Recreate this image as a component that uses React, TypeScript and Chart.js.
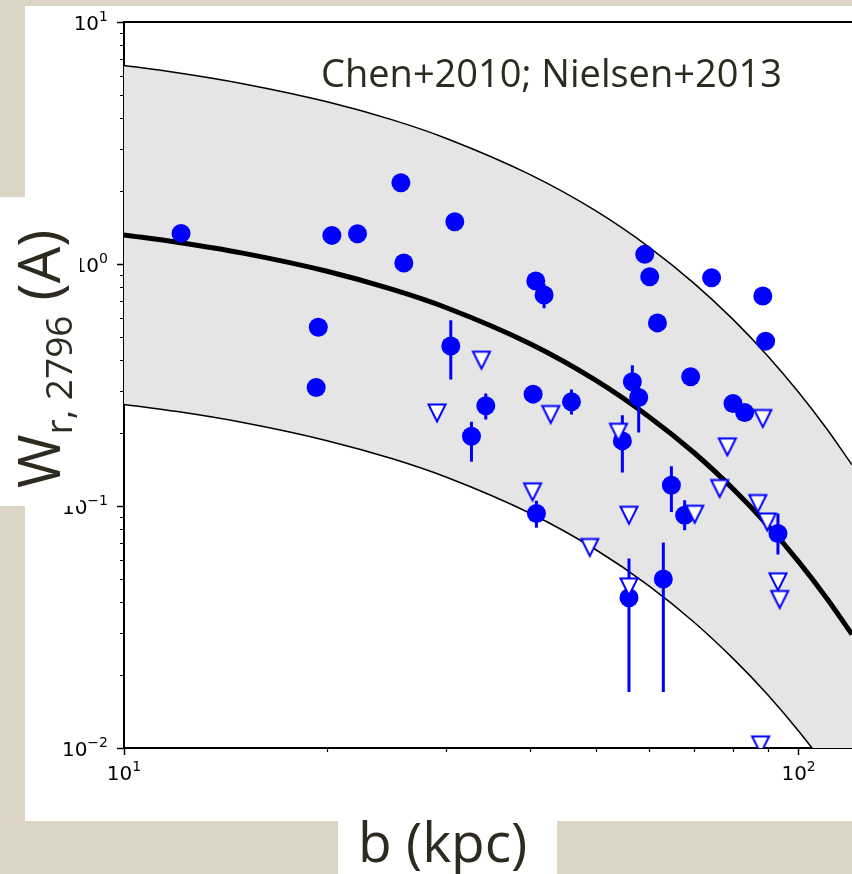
import React, { useEffect, useRef } from 'react';
import { Chart, registerables } from 'chart.js';

Chart.register(...registerables);

// ---------- data ----------
// detections (filled circles), impact parameter b (kpc) and W_r,2796 (A)
const bDet = [12.15, 25.73, 20.33, 22.19, 25.99, 19.41, 19.27, 30.93, 30.51, 40.78, 41.95, 59.15, 60.16, 74.31, 88.5, 89.35, 61.77, 34.38, 32.74, 40.41, 46.06, 56.7, 57.94, 69.18, 79.94, 83.18, 54.8, 64.78, 67.78, 93.2, 40.87, 56.05, 63.02];
const wDet = [1.338, 2.167, 1.313, 1.333, 1.009, 0.548, 0.309, 1.494, 0.458, 0.85, 0.744, 1.096, 0.885, 0.877, 0.737, 0.48, 0.571, 0.2594, 0.1943, 0.2899, 0.2694, 0.326, 0.2809, 0.3418, 0.2653, 0.2435, 0.1858, 0.1219, 0.0916, 0.077, 0.0931, 0.0418, 0.04997];
// visible error bars (lower / upper end), null where smaller than the marker
const errLo = [null, null, null, null, null, null, null, null, 0.333, null, 0.657, null, null, null, null, null, null, 0.2278, 0.1522, null, 0.2389, 0.287, 0.2012, null, null, null, 0.1376, 0.0945, 0.0794, 0.063, 0.0813, 0.01704, 0.01704];
const errHi = [null, null, null, null, null, null, null, null, 0.586, null, 0.826, null, null, null, null, null, null, 0.2917, 0.2227, null, 0.3031, 0.382, 0.331, null, null, null, 0.2373, 0.146, 0.1057, 0.0931, 0.105, 0.0607, 0.0707];

// upper limits (open down triangles)
const bLim = [29.11, 33.88, 42.91, 54.07, 78.42, 76.38, 70.15, 87.0, 89.87, 40.33, 56.05, 49.03, 93.2, 93.74, 56.05, 87.83, 88.5];
const wLim = [0.2423, 0.4006, 0.2389, 0.2018, 0.1755, 0.1181, 0.0925, 0.1024, 0.0859, 0.1144, 0.0916, 0.0674, 0.0486, 0.0411, 0.0463, 0.0103, 0.23];

// model curves
const modelB = [10, 12, 15, 20, 25, 30, 40, 50, 60, 70, 80, 90, 100, 110, 120];
const modelMid = [1.318, 1.23, 1.109, 0.933, 0.785, 0.661, 0.468, 0.331, 0.234, 0.166, 0.1175, 0.0832, 0.0589, 0.0417, 0.0295];
const modelUpper = [6.61, 6.17, 5.56, 4.68, 3.94, 3.31, 2.34, 1.66, 1.175, 0.832, 0.589, 0.417, 0.295, 0.209, 0.148];
const modelLower = [0.263, 0.2455, 0.2213, 0.1862, 0.1567, 0.1318, 0.0933, 0.0661, 0.0468, 0.0331, 0.0234, 0.0166, 0.01175, 0.00832, 0.00589];

// ticks
const xTickValues = [10, 20, 30, 40, 50, 60, 70, 80, 90, 100];
const xMajorValues = [10, 100];
const xMajorExponents = ['1', '2'];
const yTickValues = [0.01, 0.02, 0.03, 0.04, 0.05, 0.06, 0.07, 0.08, 0.09, 0.1, 0.2, 0.3, 0.4, 0.5, 0.6, 0.7, 0.8, 0.9, 1, 2, 3, 4, 5, 6, 7, 8, 9, 10];
const yMajorValues = [0.01, 0.1, 1, 10];
const yMajorExponents = ['−2', '−1', '0', '1'];
const tickBase = '10';

// texts
const titleText = 'Chen+2010; Nielsen+2013';
const xTitleText = 'b (kpc)';
const yTitleMain = 'W';
const yTitleSub = 'r, 2796';
const yTitleUnit = ' (A)';

// ---------- styles ----------
const W = 852;
const H = 874;
const PARCHMENT = '#dcd4c4';
const TEXT = '#2d2a20';
const BLUE = '#0000ff';
const BAND = '#e5e5e5';
const SANS = '"Open Sans", "DejaVu Sans", sans-serif';
const TICKFONT = '"DejaVu Sans", sans-serif';

function isMajor(list: number[], v: number) {
  return list.some((m) => Math.abs(m - v) < 1e-9);
}

function makeTriangle(): HTMLCanvasElement {
  const c = document.createElement('canvas');
  c.width = 24;
  c.height = 24;
  const g = c.getContext('2d')!;
  g.beginPath();
  g.moveTo(3.5, 3.5);
  g.lineTo(20.5, 3.5);
  g.lineTo(12, 20.5);
  g.closePath();
  g.fillStyle = '#ffffff';
  g.fill();
  g.lineWidth = 2;
  g.lineJoin = 'miter';
  g.strokeStyle = BLUE;
  g.stroke();
  return c;
}

function drawPow(ctx: CanvasRenderingContext2D, exp: string, x: number, baseline: number, align: 'right' | 'center') {
  ctx.font = `20px ${TICKFONT}`;
  const wb = ctx.measureText(tickBase).width;
  ctx.font = `14px ${TICKFONT}`;
  const we = ctx.measureText(exp).width;
  const total = wb + we;
  const start = align === 'right' ? x - total : x - total / 2;
  ctx.font = `20px ${TICKFONT}`;
  ctx.fillText(tickBase, start, baseline);
  ctx.font = `14px ${TICKFONT}`;
  ctx.fillText(exp, start + wb, baseline - 9);
}

const decorPlugin = {
  id: 'decor',
  beforeDraw(chart: any) {
    const ctx = chart.ctx;
    ctx.save();
    ctx.fillStyle = PARCHMENT;
    ctx.fillRect(0, 0, W, H);
    ctx.fillStyle = '#ffffff';
    ctx.fillRect(25, 6, W - 25, 815);
    ctx.fillRect(338, 821, 219, H - 821);
    ctx.restore();
  },
  afterDraw(chart: any) {
    const ctx = chart.ctx;
    const area = chart.chartArea;
    const xs = chart.scales.x;
    const ys = chart.scales.y;
    ctx.save();
    // minor ticks
    ctx.strokeStyle = '#000';
    ctx.lineWidth = 1.2;
    ctx.beginPath();
    xTickValues.forEach((v) => {
      if (isMajor(xMajorValues, v)) return;
      const px = Math.round(xs.getPixelForValue(v)) + 0.5;
      ctx.moveTo(px, area.bottom);
      ctx.lineTo(px, area.bottom + 4);
    });
    yTickValues.forEach((v) => {
      if (isMajor(yMajorValues, v)) return;
      const py = Math.round(ys.getPixelForValue(v)) + 0.5;
      ctx.moveTo(area.left, py);
      ctx.lineTo(area.left - 4, py);
    });
    ctx.stroke();
    // top spine
    ctx.lineWidth = 2;
    ctx.beginPath();
    ctx.moveTo(area.left - 1, area.top);
    ctx.lineTo(area.right, area.top);
    ctx.stroke();

    // tick labels (10 with superscript exponent)
    ctx.fillStyle = '#000';
    ctx.textBaseline = 'alphabetic';
    ctx.textAlign = 'left';
    yMajorValues.forEach((v, i) => {
      const py = ys.getPixelForValue(v);
      drawPow(ctx, yMajorExponents[i], area.left - 16, py + 8, 'right');
    });
    xMajorValues.forEach((v, i) => {
      const px = xs.getPixelForValue(v);
      drawPow(ctx, xMajorExponents[i], px, area.bottom + 32, 'center');
    });

    // title inside the plot
    ctx.fillStyle = TEXT;
    ctx.font = `38px ${SANS}`;
    ctx.fillText(titleText, 321, 87);

    // x title
    ctx.font = `55px ${SANS}`;
    ctx.fillText(xTitleText, 358, 862);

    // y title box (covers part of the tick labels)
    ctx.fillStyle = '#ffffff';
    ctx.fillRect(0, 197, 80, 309);
    ctx.fillStyle = TEXT;
    ctx.translate(60, 488);
    ctx.rotate(-Math.PI / 2);
    let off = 0;
    ctx.font = `58px ${SANS}`;
    ctx.fillText(yTitleMain, off, 0);
    off += ctx.measureText(yTitleMain).width;
    ctx.font = `37px ${SANS}`;
    ctx.fillText(yTitleSub, off, 12);
    off += ctx.measureText(yTitleSub).width;
    ctx.font = `58px ${SANS}`;
    ctx.fillText(yTitleUnit, off, 0);
    ctx.restore();
  },
};

export default function App() {
  const ref = useRef<HTMLCanvasElement | null>(null);

  useEffect(() => {
    const canvas = ref.current;
    if (!canvas) return;
    const tri = makeTriangle();

    const detPoints = bDet.map((b, i) => ({ x: b, y: wDet[i] }));
    const limPoints = bLim.map((b, i) => ({ x: b, y: wLim[i] }));
    const errPoints: { x: number; y: number | null }[] = [];
    bDet.forEach((b, i) => {
      if (errLo[i] != null && errHi[i] != null) {
        errPoints.push({ x: b, y: errLo[i] as number });
        errPoints.push({ x: b, y: errHi[i] as number });
        errPoints.push({ x: b, y: null });
      }
    });
    const upper = modelB.map((b, i) => ({ x: b, y: modelUpper[i] }));
    const lower = modelB.map((b, i) => ({ x: b, y: modelLower[i] }));
    const mid = modelB.map((b, i) => ({ x: b, y: modelMid[i] }));

    const chart = new Chart(canvas, {
      type: 'line',
      data: {
        datasets: [
          {
            data: upper,
            order: 5,
            borderColor: '#000',
            borderWidth: 1.5,
            pointRadius: 0,
            cubicInterpolationMode: 'monotone',
            fill: '+1',
            backgroundColor: BAND,
          },
          {
            data: lower,
            order: 4,
            borderColor: '#000',
            borderWidth: 1.5,
            pointRadius: 0,
            cubicInterpolationMode: 'monotone',
            fill: false,
          },
          {
            data: mid,
            order: 3,
            borderColor: '#000',
            borderWidth: 5,
            pointRadius: 0,
            cubicInterpolationMode: 'monotone',
            fill: false,
          },
          {
            data: errPoints,
            order: 2,
            borderColor: BLUE,
            borderWidth: 3,
            borderCapStyle: 'butt',
            pointRadius: 0,
            spanGaps: false,
            fill: false,
          },
          {
            data: detPoints,
            order: 1,
            showLine: false,
            pointStyle: 'circle',
            pointRadius: 9.5,
            pointBorderWidth: 0,
            pointBackgroundColor: BLUE,
            pointBorderColor: BLUE,
          },
          {
            data: limPoints,
            order: 0,
            showLine: false,
            pointStyle: tri,
            pointRadius: 10,
          },
        ],
      },
      options: {
        animation: false,
        responsive: false,
        events: [],
        layout: { autoPadding: false, padding: { top: 22, left: 0, right: 0, bottom: 0 } },
        plugins: {
          legend: { display: false },
          tooltip: { enabled: false },
          title: { display: false },
        },
        scales: {
          x: {
            type: 'logarithmic',
            position: 'bottom',
            min: 10,
            max: 120,
            afterFit: (s: any) => {
              s.height = 126;
              s.paddingLeft = 0;
              s.paddingRight = 0;
            },
            afterBuildTicks: (s: any) => {
              s.ticks = xTickValues.map((v) => ({ value: v, major: isMajor(xMajorValues, v) }));
            },
            border: { display: true, color: '#000', width: 2 },
            grid: {
              drawOnChartArea: false,
              drawTicks: true,
              tickLength: 7,
              tickWidth: 1.5,
              tickColor: (c: any) => (c.tick && isMajor(xMajorValues, c.tick.value) ? '#000' : 'rgba(0,0,0,0)'),
            },
            ticks: { display: false, autoSkip: false, maxRotation: 0 },
          },
          y: {
            type: 'logarithmic',
            position: 'left',
            min: 0.01,
            max: 10,
            afterFit: (s: any) => {
              s.width = 124;
              s.paddingTop = 0;
              s.paddingBottom = 0;
            },
            afterBuildTicks: (s: any) => {
              s.ticks = yTickValues.map((v) => ({ value: v, major: isMajor(yMajorValues, v) }));
            },
            border: { display: true, color: '#000', width: 2 },
            grid: {
              drawOnChartArea: false,
              drawTicks: true,
              tickLength: 7,
              tickWidth: 1.5,
              tickColor: (c: any) => (c.tick && isMajor(yMajorValues, c.tick.value) ? '#000' : 'rgba(0,0,0,0)'),
            },
            ticks: { display: false, autoSkip: false },
          },
        },
      } as any,
      plugins: [decorPlugin],
    });

    return () => {
      chart.destroy();
    };
  }, []);

  return (
    <div style={{ position: 'absolute', left: 0, top: 0, width: W, height: H, overflow: 'hidden' }}>
      <canvas ref={ref} width={W} height={H} style={{ display: 'block', width: W, height: H }} />
    </div>
  );
}
